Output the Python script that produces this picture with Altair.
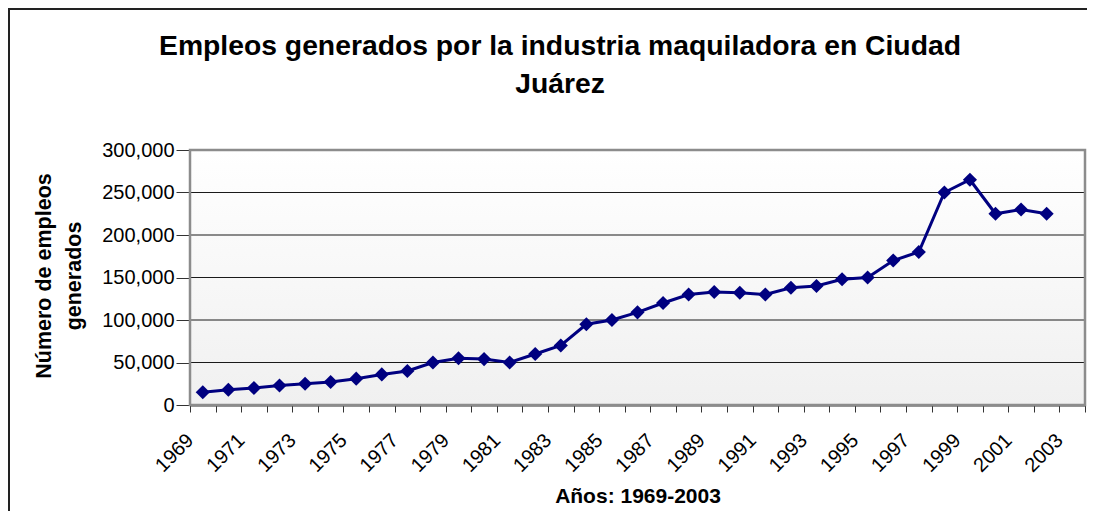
import json
import altair as alt
import pandas as pd

# ---- data ----
anios = list(range(1969, 2003))
empleos = [15000, 18000, 20000, 23000, 25000, 27000, 31000, 36000, 40000, 50000,
           55000, 54000, 50000, 60000, 70000, 95000, 100000, 109000, 120000, 130000,
           133000, 132000, 130000, 138000, 140000, 148000, 150000, 170000, 180000, 250000,
           265000, 225000, 230000, 225000]
ticks_y = [0, 50000, 100000, 150000, 200000, 250000, 300000]
ticks_x = list(range(1969, 2005))
etiquetas_x = list(range(1969, 2004, 2))

titulo = ["Empleos generados por la industria maquiladora en Ciudad", "Juárez"]
titulo_y = ["Número de empleos", "generados"]
titulo_x = "Años: 1969-2003"

W, H = 895, 255
FONT = "Liberation Sans"

df = pd.DataFrame({"anio": anios, "empleos": empleos})
grid_df = pd.DataFrame({"empleos": ticks_y[1:-1]})
one = pd.DataFrame({"k": [0]})

label_expr = "indexof(" + json.dumps(etiquetas_x) + ", datum.value) >= 0 ? '' + datum.value : ''"

x_scale = alt.Scale(domain=[1969, 2004], nice=False, zero=False)
y_scale = alt.Scale(domain=[0, 300000], nice=False)

x_enc = alt.X(
    "pos:Q", scale=x_scale, title=titulo_x,
    axis=alt.Axis(values=ticks_x, labelExpr=label_expr, labelAngle=315,
                  labelAlign="right", labelBaseline="middle", labelPadding=25,
                  tickSize=7, tickColor="#333333", tickWidth=1,
                  domainColor="#333333", domainWidth=2,
                  labelFontSize=20, labelOverlap=False, labelFlush=False, grid=False,
                  titleFontSize=21, titleFontWeight="bold", titleX=W / 2, titleY=91,
                  titleBaseline="middle", titleAlign="center"),
)
y_axis = alt.Axis(values=ticks_y, labelExpr="format(datum.value, ',')",
                  labelFontSize=20, labelPadding=2,
                  tickSize=14, tickColor="#333333", tickWidth=1,
                  domainColor="#333333", domainWidth=2, grid=False,
                  labelOverlap=False, labelFlush=False,
                  titleFontSize=21.5, titleFontWeight="bold", titleAngle=270,
                  titleX=-146, titleY=H / 2 - 2, titleAlign="center",
                  titleBaseline="middle", titleLineHeight=30)
y_enc = alt.Y("empleos:Q", scale=y_scale, title=titulo_y, axis=y_axis)

bg = alt.Chart(one).mark_rect(
    fill=alt.Gradient(gradient="linear",
                      stops=[alt.GradientStop(color="#ffffff", offset=0),
                             alt.GradientStop(color="#f0f0f0", offset=1)],
                      x1=0, x2=0, y1=0, y2=1),
    strokeWidth=0,
).encode(x=alt.value(0), x2=alt.value(W), y=alt.value(0), y2=alt.value(H))

grid = alt.Chart(grid_df).mark_rule(color="#1a1a1a", strokeWidth=1).encode(y=y_enc)

frame = alt.Chart(one).mark_rect(
    fill="transparent", stroke="#8c8c8c", strokeWidth=2.5
).encode(x=alt.value(0), x2=alt.value(W), y=alt.value(0), y2=alt.value(H))

base = alt.Chart(df).transform_calculate(pos="datum.anio + 0.5")
line = base.mark_line(color="#000080", strokeWidth=3).encode(x=x_enc, y=y_enc)
pts = base.mark_point(shape="diamond", filled=True, size=200, color="#000080",
                      opacity=1).encode(x=x_enc, y=y_enc)

# chart title as text (two lines)
title_mark = alt.Chart(one).mark_text(
    text=titulo, font=FONT, fontSize=28.3, fontWeight="bold", color="black",
    align="center", baseline="alphabetic", lineHeight=38
).encode(x=alt.value(370), y=alt.value(-95))

# outer chart border (only top and left edges are inside the picture)
border_left = alt.Chart(one).mark_rule(color="#222222", strokeWidth=2).encode(
    x=alt.value(-181), y=alt.value(-142), y2=alt.value(361))
border_top = alt.Chart(one).mark_rule(color="#222222", strokeWidth=2).encode(
    x=alt.value(-182), x2=alt.value(W + 2), y=alt.value(-141))

chart = alt.layer(bg, grid, frame, line, pts, title_mark, border_left, border_top).properties(
    width=W, height=H,
    padding={"left": 182, "top": 142, "right": 2, "bottom": 106},
    autosize=alt.AutoSizeParams(type="none"),
).configure_axis(
    labelFont=FONT, titleFont=FONT, labelColor="black", titleColor="black"
).configure_view(strokeWidth=0).configure(background="white")

chart.save("out.html", embed_options={"renderer": "svg", "actions": False})
